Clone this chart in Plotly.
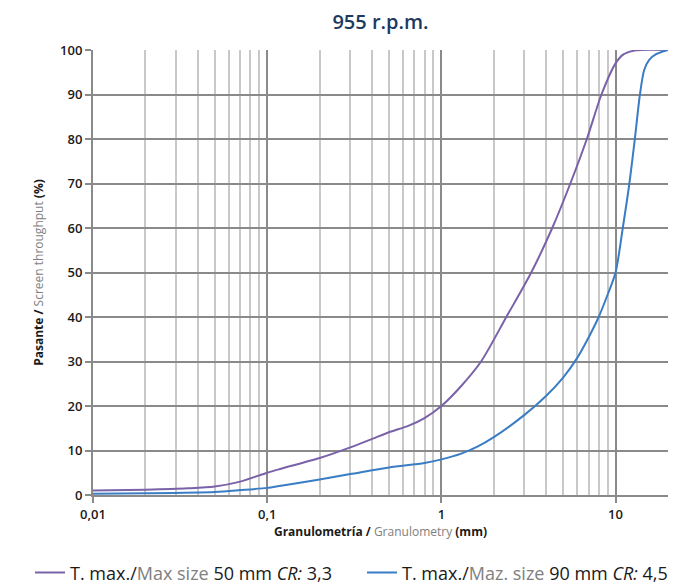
import plotly.graph_objects as go

# Data
x_50 = [0.01, 0.02, 0.035, 0.05, 0.07, 0.1, 0.12, 0.2, 0.3, 0.4, 0.5, 0.65, 0.8, 1, 1.3, 1.69, 2.36,
        3.28, 4.33, 5.5, 6.84, 8.3, 10, 11.1, 12.6, 14, 20]
y_50 = [1.0, 1.2, 1.5, 1.9, 3.0, 5.0, 5.9, 8.3, 10.7, 12.6, 14.1, 15.6, 17.3, 20, 24.5, 30, 40,
        50, 60, 70, 80, 90, 97, 99, 99.8, 100, 100]

x_90 = [0.01, 0.02, 0.05, 0.07, 0.1, 0.12, 0.2, 0.3, 0.5, 0.8, 1, 1.3, 1.6, 2, 3, 4, 5, 6, 7, 8, 9,
        10, 11, 12, 12.9, 13.8, 14.6, 15.6, 17, 20]
y_90 = [0.3, 0.4, 0.7, 1.1, 1.6, 2.1, 3.5, 4.7, 6.2, 7.2, 8, 9.3, 10.8, 13, 18, 22.3, 26.4, 30.7, 35.4,
        40, 45, 50, 60, 70, 80, 90, 95.5, 97.8, 99, 100]

x_tickvals = [0.01, 0.1, 1, 10]
x_ticktext = ["0,01", "0,1", "1", "10"]
x_minor = [m * d for d in (0.01, 0.1, 1) for m in range(2, 10)] + [20]
y_tickvals = list(range(0, 101, 10))

name_50 = ("T. max./<span style='color:#808080'>Max size</span> 50 mm "
           "<i>CR:</i> 3,3")
name_90 = ("T. max./<span style='color:#808080'>Maz. size</span> 90 mm "
           "<i>CR:</i> 4,5")

PURPLE = "#7a62a8"
BLUE = "#3a7dc4"
DARK = "#8a8a8a"
LIGHT = "#c8c8c8"
FONT = "Open Sans"

fig = go.Figure()
fig.add_trace(go.Scatter(x=x_50, y=y_50, mode="lines", name=name_50, legend="legend",
                         line=dict(color=PURPLE, width=2, shape="spline", smoothing=0.8)))
fig.add_trace(go.Scatter(x=x_90, y=y_90, mode="lines", name=name_90, legend="legend2",
                         line=dict(color=BLUE, width=2, shape="spline", smoothing=0.8)))

leg_common = dict(orientation="h", xanchor="left", xref="container",
                  y=0.019, yanchor="middle", yref="container",
                  font=dict(family=FONT, size=18, color="#1a1a1a"),
                  itemwidth=30, bgcolor="rgba(0,0,0,0)")

fig.update_layout(
    width=697, height=584,
    margin=dict(l=93, r=29, t=50, b=89),
    paper_bgcolor="white", plot_bgcolor="white",
    font=dict(family=FONT, color="#1a1a1a"),
    title=dict(text="955 r.p.m.", x=0.5, xref="paper", y=0.962, yanchor="middle",
               font=dict(family=FONT, size=20, color="#1b3a5e", weight=600)),
    showlegend=True,
    legend=dict(x=30 / 697, **leg_common),
    legend2=dict(x=362 / 697, **leg_common),
)

fig.update_xaxes(
    type="log", range=[-2, 1.30103],
    tickvals=x_tickvals, ticktext=x_ticktext,
    tickfont=dict(family=FONT, size=13, color="#1a1a1a", weight=600),
    showgrid=True, gridcolor=DARK, gridwidth=2,
    ticks="outside", ticklen=6, tickcolor=DARK, tickwidth=2,
    showline=True, linecolor=DARK, linewidth=2,
    minor=dict(tickvals=x_minor, showgrid=True, gridcolor=LIGHT, gridwidth=1.6, ticks=""),
    title=dict(text="<b>Granulometría / </b><span style='color:#808080'>Granulometry</span><b> (mm)</b>",
               font=dict(family=FONT, size=12, color="#1a1a1a"), standoff=6),
    zeroline=False,
)
fig.update_yaxes(
    range=[0, 100], tickvals=y_tickvals,
    tickfont=dict(family=FONT, size=13, color="#1a1a1a", weight=600),
    showgrid=True, gridcolor=DARK, gridwidth=2,
    ticks="outside", ticklen=6, tickcolor=DARK, tickwidth=2,
    showline=True, linecolor=DARK, linewidth=2,
    title=dict(text="<b>Pasante / </b><span style='color:#808080'>Screen throughput</span><b> (%)</b>",
               font=dict(family=FONT, size=12, color="#1a1a1a"), standoff=14),
    zeroline=False,
)

fig.write_html("out.html")
